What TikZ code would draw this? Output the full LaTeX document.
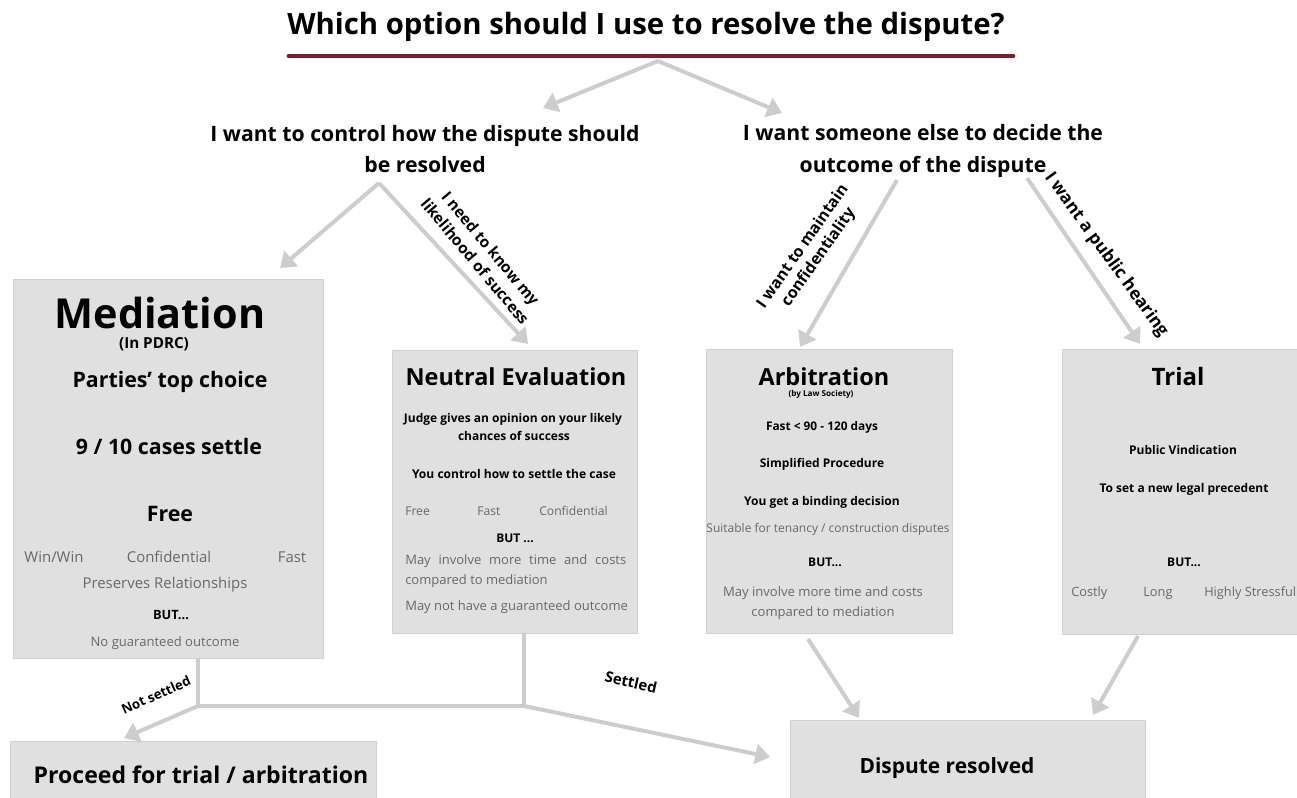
\documentclass[tikz,border=0pt]{standalone}
\usepackage{fontspec}
\setmainfont{Open Sans}
\usetikzlibrary{arrows.meta,fit}
\definecolor{boxgray}{HTML}{E0E0E0}
\definecolor{boxline}{HTML}{D0D0D0}
\definecolor{arrgray}{HTML}{CDCDCD}
\definecolor{txtgray}{HTML}{686868}
\definecolor{darkred}{HTML}{7D1F2D}
\newcommand\myfs[1]{\fontsize{#1}{#1}\selectfont}
\tikzset{
  panel/.style={draw=boxline, line width=0.6pt, fill=boxgray, inner sep=0pt},
  arr/.style={draw=arrgray, line width=3pt, -{Triangle[length=11pt,width=15pt]}},
  conn/.style={draw=arrgray, line width=2.6pt},
  bt/.style={inner sep=0pt, anchor=base, font=\bfseries\myfs{#1}},
  gt/.style={inner sep=0pt, anchor=base, text=txtgray, font=\myfs{#1}},
  gtl/.style={inner sep=0pt, anchor=base west, text=txtgray, font=\myfs{#1}},
  lbl/.style={inner sep=0pt, font=\bfseries\myfs{#1}, align=center},
}
\begin{document}
\begin{tikzpicture}[x=0.75pt,y=-0.75pt]
\useasboundingbox (0,0) rectangle (1297,798);
\fill[white] (0,0) rectangle (1297,798);

% title
\node[bt=22] (title) at (646,35) {Which option should I use to resolve the dispute?};
\draw[darkred, line width=3.6pt, line cap=round] (289,56) -- (1013,56);
\coordinate (ts) at (658,61);
\coordinate (tl) at (543,108);
\coordinate (tr) at (782,113);
\draw[arr] (ts) -- (tl);
\draw[arr] (ts) -- (tr);

% headers
\node[bt=15.9] (lh1) at (425,142) {I want to control how the dispute should};
\node[bt=15.9] (lh2) at (425,173) {be resolved};
\node[bt=15.9] (rh1) at (923,141) {I want someone else to decide the};
\node[bt=15.9] (rh2) at (923,173) {outcome of the dispute};

% boxes
\coordinate (m1) at (13,279); \coordinate (m2) at (323,658);
\node[panel, fit=(m1)(m2)] (med) {};
\coordinate (n1) at (392,350); \coordinate (n2) at (637,633);
\node[panel, fit=(n1)(n2)] (neu) {};
\coordinate (a1) at (706,349); \coordinate (a2) at (952,633);
\node[panel, fit=(a1)(a2)] (arb) {};
\coordinate (r1) at (1062,349); \coordinate (r2) at (1310,634);
\node[panel, fit=(r1)(r2)] (tri) {};
\coordinate (p1) at (10,741); \coordinate (p2) at (376,810);
\node[panel, fit=(p1)(p2)] (pro) {};
\coordinate (d1) at (790,720); \coordinate (d2) at (1145,810);
\node[panel, fit=(d1)(d2)] (res) {};

% arrows from headers
\coordinate (ls) at (379,183);
\coordinate (medtip) at (280,268);
\coordinate (neutip) at (528,344);
\draw[arr] (ls) -- (medtip);
\draw[arr] (ls) -- (neutip);
\coordinate (rs1) at (897,180);
\coordinate (arbtip) at (800,347);
\coordinate (rs2) at (1027,178);
\coordinate (tritip) at (1140,344);
\draw[arr] (rs1) -- (arbtip);
\draw[arr] (rs2) -- (tritip);

\node[lbl=11.6, rotate=-50] (lab1) at (483,255) {I need to know my\\[2.5pt]likelihood of success};
\node[lbl=11.9, rotate=55] (lab2) at (811,252) {I want to maintain\\[2.5pt]confidentiality};
\node[lbl=13, rotate=-54] (lab3) at (1106,255) {I want a public hearing};

% Mediation text
\node[bt=31] (medT) at (160,329) {Mediation};
\node[bt=11.4] (medS) at (154,349) {(In PDRC)};
\node[bt=16] (med1) at (170,388) {Parties' top choice};
\node[bt=16] (med2) at (169,455) {9 / 10 cases settle};
\node[bt=16] (med3) at (170,522) {Free};
\node[gt=11.2] (med4a) at (54,563) {Win/Win};
\node[gt=11.2] (med4b) at (169,563) {Confidential};
\node[gt=11.2] (med4c) at (292,563) {Fast};
\node[gt=11.2] (med5) at (165,589) {Preserves Relationships};
\node[bt=9.6] (med6) at (171,619) {BUT...};
\node[gt=9.8] (med7) at (165,646) {No guaranteed outcome};

% Neutral Evaluation text
\node[bt=17.6] (neuT) at (516,386) {Neutral Evaluation};
\node[bt=9] (neu1) at (513,423) {Judge gives an opinion on your likely};
\node[bt=9] (neu2) at (514,441) {chances of success};
\node[bt=9.05] (neu3) at (514,479) {You control how to settle the case};
\node[gtl=9.1] (neu4a) at (405,516) {Free};
\node[gtl=9.1] (neu4b) at (477,516) {Fast};
\node[gtl=9.1] (neu4c) at (539,516) {Confidential};
\node[bt=9] (neu5) at (515,543) {BUT ...};
\node[gtl=9.75] (neu6) at (405,565) {\makebox[165.75pt][s]{May involve more time and costs}};
\node[gtl=9.75] (neu7) at (405,585) {compared to mediation};
\node[gtl=9.75] (neu8) at (405,610) {May not have a guaranteed outcome};

% Arbitration text
\node[bt=17.6] (arbT) at (824,386) {Arbitration};
\node[bt=6.1] (arbS) at (821,397) {(by Law Society)};
\node[bt=8.9] (arb1) at (822,431) {Fast < 90 - 120 days};
\node[bt=9] (arb2) at (822,468) {Simplified Procedure};
\node[bt=9] (arb3) at (822,506) {You get a binding decision};
\node[gt=9] (arb4) at (828,533) {Suitable for tenancy / construction disputes};
\node[bt=9] (arb5) at (825,566) {BUT...};
\node[gt=9.8] (arb6) at (823,596) {May involve more time and costs};
\node[gt=9.8] (arb7) at (823,617) {compared to mediation};

% Trial text
\node[bt=18] (triT) at (1178,386) {Trial};
\node[bt=9] (tri1) at (1183,455) {Public Vindication};
\node[bt=9] (tri2) at (1184,493) {To set a new legal precedent};
\node[bt=9] (tri3) at (1184,567) {BUT...};
\node[gtl=9.6] (tri4a) at (1071,596) {Costly};
\node[gtl=9.6] (tri4b) at (1143,596) {Long};
\node[gtl=9.6] (tri4c) at (1204,596) {Highly Stressful};

% bottom boxes text
\node[bt=17.3] (proT) at (201,783) {Proceed for trial / arbitration};
\node[bt=15.7] (resT) at (947,773) {Dispute resolved};

% bottom connectors
\coordinate (mb) at (198,706);
\coordinate (nb) at (524,706);
\coordinate (protip) at (124,738);
\coordinate (restip) at (770,757);
\draw[conn] (med.south -| mb) -- (mb);
\draw[conn] (neu.south -| nb) -- (nb);
\draw[draw=arrgray, line width=3.4pt] (mb) -- (nb);
\draw[arr] (mb) -- (protip);
\draw[arr] (nb) -- (restip);
\node[lbl=9.9, rotate=24] (ns) at (156,695) {Not settled};
\node[lbl=11.2, rotate=-13] (st) at (631,682) {Settled};

\coordinate (as) at (808,639);
\coordinate (arbres) at (859,718);
\coordinate (ts2) at (1138,636);
\coordinate (trires) at (1093,715);
\draw[arr] (as) -- (arbres);
\draw[arr] (ts2) -- (trires);
\end{tikzpicture}
\end{document}
